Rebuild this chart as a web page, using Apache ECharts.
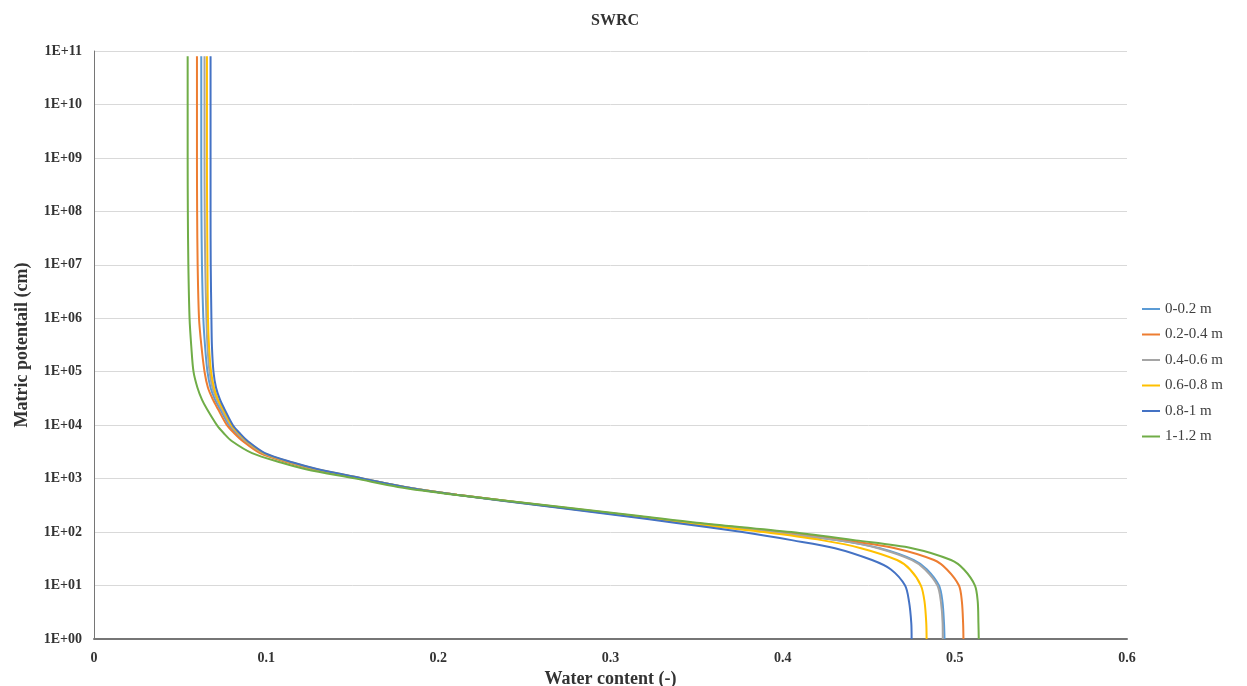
<!DOCTYPE html>
<html>
<head>
	<meta charset="UTF-8">
	<title>SWRC</title>
	<script src="https://cdn.jsdelivr.net/npm/echarts@6/dist/echarts.min.js"></script>
	<style>
		html, body { margin: 0; padding: 0; background: #fff; }
		#chart { width: 1247px; height: 686px; }
	</style>
</head>
<body>
<div id="chart"></div>
<script>
// matric potential levels (cm)
var heads = [1, 2, 5, 10, 20, 30, 50, 70, 100, 150, 200, 300, 500, 700, 1000, 1500, 2000, 3000, 5000, 7000,
	1e4, 2e4, 3e4, 5e4, 1e5, 3e5, 1e6, 1e7, 1e8, 1e9, 1e10, 8e10];

// water content of each layer at those levels
var layer1 = [0.4940, 0.4937, 0.4928, 0.4908, 0.4838, 0.4763, 0.4565, 0.4320, 0.3935, 0.3435, 0.3120, 0.2660, 0.2108, 0.1800, 0.1554, 0.1284, 0.1138, 0.0976, 0.0877, 0.0828,
	0.0784, 0.0732, 0.0703, 0.0677, 0.0659, 0.0645, 0.0635, 0.0627, 0.0624, 0.0623, 0.0623, 0.0623];
var layer2 = [0.5050, 0.5048, 0.5041, 0.5024, 0.4954, 0.4879, 0.4652, 0.4368, 0.3995, 0.3470, 0.3145, 0.2675, 0.2108, 0.1795, 0.1545, 0.1272, 0.1127, 0.0964, 0.0865, 0.0816,
	0.0772, 0.0720, 0.0691, 0.0662, 0.0642, 0.0624, 0.0610, 0.0602, 0.0599, 0.0598, 0.0598, 0.0598];
var layer3 = [0.4930, 0.4929, 0.4919, 0.4899, 0.4827, 0.4751, 0.4554, 0.4325, 0.3940, 0.3440, 0.3125, 0.2665, 0.2110, 0.1803, 0.1560, 0.1289, 0.1144, 0.0982, 0.0883, 0.0836,
	0.0793, 0.0741, 0.0714, 0.0688, 0.0671, 0.0659, 0.0653, 0.0646, 0.0643, 0.0642, 0.0642, 0.0642];
var layer4 = [0.4836, 0.4834, 0.4824, 0.4803, 0.4740, 0.4664, 0.4455, 0.4234, 0.3890, 0.3410, 0.3105, 0.2655, 0.2108, 0.1806, 0.1565, 0.1295, 0.1150, 0.0987, 0.0889, 0.0842,
	0.0799, 0.0749, 0.0720, 0.0697, 0.0680, 0.0668, 0.0662, 0.0659, 0.0657, 0.0656, 0.0656, 0.0656];
var layer5 = [0.4749, 0.4747, 0.4734, 0.4711, 0.4629, 0.4519, 0.4304, 0.4060, 0.3766, 0.3372, 0.3077, 0.2640, 0.2101, 0.1806, 0.1568, 0.1301, 0.1156, 0.0993, 0.0894, 0.0848,
	0.0807, 0.0758, 0.0732, 0.0709, 0.0694, 0.0685, 0.0682, 0.0678, 0.0677, 0.0677, 0.0677, 0.0677];
var layer6 = [0.5139, 0.5137, 0.5133, 0.5117, 0.5053, 0.4978, 0.4751, 0.4426, 0.4050, 0.3500, 0.3170, 0.2690, 0.2095, 0.1765, 0.1522, 0.1231, 0.1086, 0.0918, 0.0802, 0.0755,
	0.0714, 0.0656, 0.0627, 0.0601, 0.0578, 0.0565, 0.0555, 0.0548, 0.0545, 0.0544, 0.0544, 0.0544];

var layerNames = ['0-0.2 m', '0.2-0.4 m', '0.4-0.6 m', '0.6-0.8 m', '0.8-1 m', '1-1.2 m'];
var layerColors = ['#5B9BD5', '#ED7D31', '#A5A5A5', '#FFC000', '#4472C4', '#70AD47'];
var layerData = [layer1, layer2, layer3, layer4, layer5, layer6];

var serif = 'Liberation Serif, Times New Roman, serif';

function pairs(thetas) {
	var res = [];
	for (var i = 0; i < heads.length; i++) {
		res.push([thetas[i], heads[i]]);
	}
	return res;
}

var series = [];
for (var k = 0; k < layerNames.length; k++) {
	series.push({
		name: layerNames[k],
		type: 'line',
		data: pairs(layerData[k]),
		symbol: 'none',
		smooth: 0.3,
		lineStyle: { width: 2, color: layerColors[k] },
		itemStyle: { color: layerColors[k] }
	});
}

var myChart = echarts.init(document.getElementById('chart'));
var option = {
	animation: false,
	title: {
		text: 'SWRC',
		left: 586,
		top: 8,
		textStyle: { fontFamily: serif, fontSize: 16, fontWeight: 'bold', color: '#333' }
	},
	legend: {
		orient: 'vertical',
		left: 1137,
		top: 296,
		icon: 'rect',
		itemWidth: 18,
		itemHeight: 2,
		itemGap: 9.5,
		data: layerNames,
		textStyle: { fontFamily: serif, fontSize: 15, color: '#404040', lineHeight: 16 }
	},
	grid: { left: 94, right: 120, top: 51, bottom: 47, outerBoundsMode: 'none', containLabel: false },
	xAxis: {
		type: 'value',
		min: 0,
		max: 0.6,
		interval: 0.1,
		name: 'Water content (-)',
		nameLocation: 'middle',
		nameGap: 30,
		nameTextStyle: { fontFamily: serif, fontSize: 18, fontWeight: 'bold', color: '#333' },
		axisLine: { show: true, lineStyle: { color: '#767676', width: 2 } },
		axisTick: { show: false },
		splitLine: { show: false },
		axisLabel: {
			fontFamily: serif, fontSize: 14, fontWeight: 'bold', color: '#333', margin: 12,
			formatter: function (v) { return v === 0 ? '0' : String(Math.round(v * 10) / 10); }
		}
	},
	yAxis: {
		type: 'log',
		logBase: 10,
		min: 1,
		max: 1e11,
		interval: 1,
		splitNumber: 11,
		name: 'Matric potentail (cm)',
		nameLocation: 'middle',
		nameGap: 63,
		nameRotate: 90,
		nameTextStyle: { fontFamily: serif, fontSize: 18, fontWeight: 'bold', color: '#333' },
		axisLine: { show: true, lineStyle: { color: '#767676', width: 1 } },
		axisTick: { show: false },
		splitLine: { show: true, lineStyle: { color: '#d9d9d9', width: 1 } },
		axisLabel: {
			fontFamily: serif, fontSize: 14, fontWeight: 'bold', color: '#333', margin: 12,
			formatter: function (v) {
				var e = Math.round(Math.log(v) / Math.LN10);
				return '1E+' + (e < 10 ? '0' : '') + e;
			}
		}
	},
	series: series
};
myChart.setOption(option);
</script>
</body>
</html>
